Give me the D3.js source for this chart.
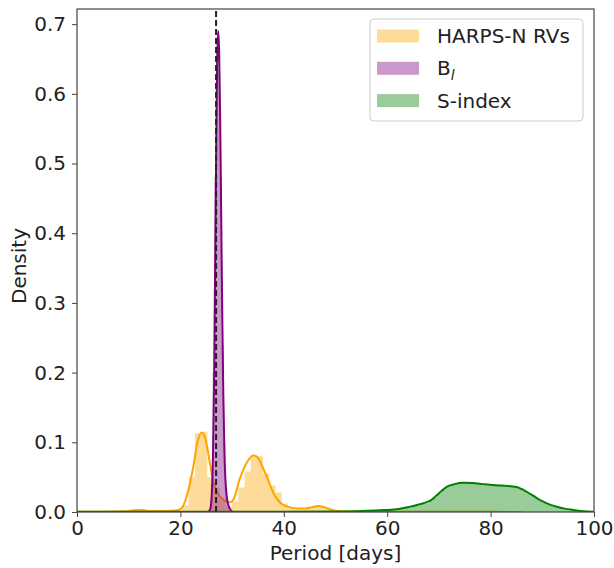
<!DOCTYPE html>
<html><head><meta charset="utf-8">
<script src="https://cdn.jsdelivr.net/npm/d3@7"></script>
<style>body{margin:0;background:#fff}svg{display:block}text{font-family:"DejaVu Sans",sans-serif;fill:#222}</style>
</head><body>
<script>
// ---- data ----
const xTicks = [0, 20, 40, 60, 80, 100];
const yTicks = [0.0, 0.1, 0.2, 0.3, 0.4, 0.5, 0.6, 0.7];
const seriesNames = ["HARPS-N RVs", "B_l", "S-index"];
const rotationPeriod = 26.9;

// HARPS-N RVs KDE (period, density)
const rvKdeX = [0, 5, 9, 10.5, 11.6, 12.6, 14, 17, 19, 20.2, 21.2, 22.5, 23.3, 24.1, 24.8, 25.6, 26.3, 27.0, 28.2, 29.6, 30.2, 31.5, 32.5, 33.4, 34.1, 35.0, 35.8, 36.7, 38.0, 39.9, 41.0, 42.5, 44.0, 45.5, 46.7, 47.8, 48.9, 50.5, 53, 60, 70, 80, 86];
const rvKdeY = [0.0005, 0.0005, 0.001, 0.002, 0.003, 0.003, 0.0015, 0.0015, 0.002, 0.005, 0.022, 0.065, 0.100, 0.114, 0.106, 0.075, 0.045, 0.030, 0.018, 0.014, 0.017, 0.048, 0.066, 0.077, 0.081, 0.078, 0.066, 0.051, 0.027, 0.010, 0.007, 0.005, 0.005, 0.007, 0.0086, 0.007, 0.004, 0.0015, 0.0007, 0.0004, 0.0003, 0.0002, 0.0001];
// HARPS-N RVs histogram: bin edges and densities
const rvBinEdges = [10.8, 12.0, 13.2, 19.2, 20.4, 21.6, 22.8, 24.0, 25.2, 26.4, 27.6, 28.8, 30.0, 31.2, 32.4, 33.6, 34.8, 36.0, 37.2, 38.4, 39.6, 40.8, 42.0, 43.2, 44.4, 45.6, 46.8, 48.0, 49.2, 50.4];
const rvBinDens  = [0.003, 0.002, 0, 0.003, 0.010, 0.050, 0.113, 0.115, 0.050, 0.035, 0.020, 0.008, 0.015, 0.035, 0.058, 0.082, 0.080, 0.055, 0.038, 0.028, 0.012, 0.005, 0.004, 0.004, 0.006, 0.009, 0.008, 0.004, 0.002];

// B_l KDE
const blKdeX = [25.4, 25.8, 26.1, 26.3, 26.5, 26.7, 26.9, 27.1, 27.3, 27.5, 27.7, 27.9, 28.1, 28.3, 28.5, 28.8, 29.2, 29.7, 30.2];
const blKdeY = [0.0, 0.005, 0.030, 0.080, 0.180, 0.340, 0.500, 0.640, 0.690, 0.660, 0.560, 0.420, 0.280, 0.170, 0.090, 0.035, 0.012, 0.003, 0.0];
// B_l histogram
const blBinEdges = [25.9, 26.25, 26.6, 26.95, 27.3, 27.65, 28.0, 28.35, 28.7, 29.05, 29.4];
const blBinDens  = [0.04, 0.20, 0.48, 0.66, 0.634, 0.48, 0.24, 0.10, 0.035, 0.01];

// S-index KDE
const sKdeX = [0, 20, 40, 50, 55, 58.6, 61.8, 64, 67.0, 68.5, 69.6, 70.5, 71.5, 73.0, 74.7, 76.5, 78.5, 79.9, 82.0, 85.0, 86.0, 87.0, 88.3, 89.6, 91.0, 92.8, 94.5, 96.0, 98.0, 100];
const sKdeY = [0.0003, 0.0003, 0.0004, 0.0008, 0.0015, 0.0025, 0.004, 0.007, 0.0125, 0.017, 0.024, 0.030, 0.036, 0.040, 0.042, 0.0415, 0.040, 0.039, 0.038, 0.036, 0.033, 0.029, 0.023, 0.017, 0.012, 0.0076, 0.0045, 0.003, 0.001, 0.0003];
// S-index histogram: first edge, bin width, densities
const sBinStart = 50.0, sBinWidth = 0.82;
const sBinDens = [0.0008, 0.001, 0.0011, 0.0012, 0.0013, 0.0014, 0.0016, 0.0018, 0.002, 0.0022,
  0.0025, 0.003, 0.0033, 0.0037, 0.004, 0.005, 0.006, 0.0075, 0.0085, 0.0095,
  0.011, 0.0125, 0.016, 0.021, 0.027, 0.032, 0.036, 0.039, 0.041, 0.042,
  0.042, 0.0418, 0.0415, 0.041, 0.0405, 0.040, 0.039, 0.039, 0.0385, 0.038,
  0.038, 0.037, 0.036, 0.034, 0.031, 0.027, 0.023, 0.020, 0.016, 0.013,
  0.010, 0.008, 0.006, 0.0045, 0.0035, 0.003, 0.002, 0.0015, 0.001, 0.0005];

const colors = {rv: "#FFA500", bl: "#800080", s: "#008000"};

// ---- drawing ----
const W = 614, H = 568;
const svg = d3.select("body").append("svg").attr("width", W).attr("height", H);
const x = d3.scaleLinear().domain([0, 100]).range([77, 594]);
const y = d3.scaleLinear().domain([0, 0.7217]).range([512, 9]);

svg.append("defs").append("clipPath").attr("id", "plot")
  .append("rect").attr("x", 77).attr("y", 9).attr("width", 517).attr("height", 503);
const g = svg.append("g").attr("clip-path", "url(#plot)");

// histogram drawn as one stepped outline (no seams between adjacent bars)
function hist(bins, color) {
  const pts = [];
  bins.forEach((b, i) => {
    const prev = bins[i - 1];
    if (!prev || Math.abs(prev.x1 - b.x0) > 1e-9) {
      if (prev) pts.push([prev.x1, 0]);
      pts.push([b.x0, 0]);
    }
    pts.push([b.x0, b.d]); pts.push([b.x1, b.d]);
  });
  pts.push([bins[bins.length - 1].x1, 0]);
  g.append("path")
    .attr("d", d3.line().x(p => x(p[0])).y(p => y(p[1]))(pts) + "Z")
    .attr("fill", color).attr("fill-opacity", 0.4).attr("stroke", "none");
}
const fromEdges = (edges, dens) => dens.map((d, i) => ({x0: edges[i], x1: edges[i + 1], d}));
function kde(xs, ys, color) {
  const pts = xs.map((v, i) => [v, ys[i]]);
  g.append("path").datum(pts)
    .attr("d", d3.line().x(d => x(d[0])).y(d => y(d[1])).curve(d3.curveMonotoneX))
    .attr("fill", "none").attr("stroke", color).attr("stroke-width", 2).attr("stroke-linejoin", "round");
}
hist(fromEdges(rvBinEdges, rvBinDens), colors.rv);
kde(rvKdeX, rvKdeY, colors.rv);
hist(fromEdges(blBinEdges, blBinDens), colors.bl);
kde(blKdeX, blKdeY, colors.bl);
hist(sBinDens.map((d, i) => ({x0: sBinStart + i * sBinWidth, x1: sBinStart + (i + 1) * sBinWidth, d})), colors.s);
kde(sKdeX, sKdeY, colors.s);

// rotation period line
g.append("line").attr("x1", x(rotationPeriod)).attr("x2", x(rotationPeriod))
  .attr("y1", y(0)).attr("y2", 9)
  .attr("stroke", "#222").attr("stroke-width", 2).attr("stroke-dasharray", "6,3");

// axes
const xAxis = svg.append("g").attr("transform", "translate(0,512)")
  .call(d3.axisBottom(x).tickValues(xTicks).tickFormat(d3.format("d")).tickSize(5).tickPadding(4));
const yAxis = svg.append("g").attr("transform", "translate(77,0)")
  .call(d3.axisLeft(y).tickValues(yTicks).tickFormat(d3.format(".1f")).tickSize(5).tickPadding(6));
[xAxis, yAxis].forEach(a => {
  a.selectAll("text").style("font-size", "20px").style("font-family", "DejaVu Sans").attr("fill", "#222");
  a.selectAll("line").attr("stroke", "#444");
  a.select(".domain").remove();
});
// frame spines
svg.append("rect").attr("x", 77).attr("y", 9).attr("width", 517).attr("height", 503)
  .attr("fill", "none").attr("stroke", "#444").attr("stroke-width", 1.2);

svg.append("text").attr("x", x(50)).attr("y", 560).attr("text-anchor", "middle")
  .style("font-size", "20px").text("Period [days]");
svg.append("text").attr("transform", "translate(26,266) rotate(-90)").attr("text-anchor", "middle")
  .style("font-size", "20px").text("Density");

// legend
const leg = svg.append("g");
leg.append("rect").attr("x", 370).attr("y", 19).attr("width", 213).attr("height", 102)
  .attr("rx", 4).attr("fill", "#fff").attr("fill-opacity", 0.8).attr("stroke", "#ccc");
const legColors = [colors.rv, colors.bl, colors.s];
seriesNames.forEach((name, i) => {
  const cy = 36 + i * 32.3;
  leg.append("rect").attr("x", 377).attr("y", cy - 6.5).attr("width", 42).attr("height", 13)
    .attr("fill", legColors[i]).attr("fill-opacity", 0.4);
  const t = leg.append("text").attr("x", 437).attr("y", cy + 7).style("font-size", "20px");
  if (name === "B_l") {
    t.append("tspan").text("B");
    t.append("tspan").attr("dy", 5).style("font-size", "14px").style("font-style", "italic").text("l");
  } else t.text(name);
});
</script>
</body></html>
